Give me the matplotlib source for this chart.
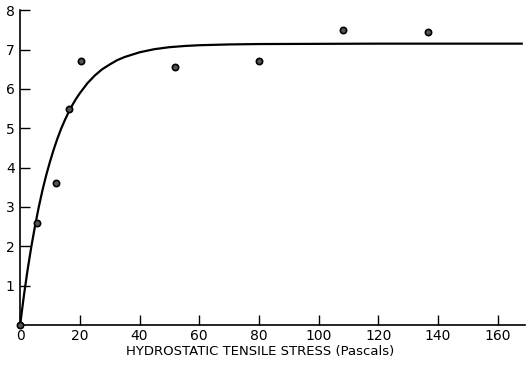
import matplotlib.pyplot as plt

# measured points
stress = [0, 5.5, 12, 16.5, 20.5, 52, 80, 108, 136.5]
value = [0, 2.6, 3.6, 5.5, 6.7, 6.55, 6.7, 7.5, 7.45]

# fitted curve
curve_x = [0, 1.25, 2.5, 3.75, 5, 6.25, 7.5, 8.75, 10, 11.25, 12.5, 13.75, 15, 16.25,
           17.5, 18.75, 20, 22.5, 25, 27.5, 30, 32.5, 35, 40, 45, 50, 55, 60, 70, 80,
           120, 168]
curve_y = [0, 0.74, 1.40, 1.99, 2.52, 3.00, 3.43, 3.81, 4.15, 4.46, 4.74, 4.99, 5.21,
           5.41, 5.59, 5.75, 5.89, 6.14, 6.34, 6.50, 6.62, 6.73, 6.81, 6.93, 7.01,
           7.06, 7.09, 7.11, 7.13, 7.14, 7.15, 7.15]

x_ticks = [0, 20, 40, 60, 80, 100, 120, 140, 160]
y_ticks = [1, 2, 3, 4, 5, 6, 7, 8]

plt.rcParams['font.family'] = ['DejaVu Sans']

fig = plt.figure(figsize=(5.3, 3.65), dpi=100)
ax = fig.add_axes([0.038, 0.11, 0.952, 0.862])

ax.plot(curve_x, curve_y, color='black', lw=1.6, solid_joinstyle='round')
ax.plot(stress, value, 'o', ms=4.5, mfc='#555555', mec='black', mew=1.2,
        clip_on=False, zorder=5)

ax.set_xlim(0, 169)
ax.set_ylim(0, 8)
ax.set_xticks(x_ticks)
ax.set_yticks(y_ticks)
ax.tick_params(direction='in', length=7, width=1, labelsize=10, pad=3)
ax.tick_params(axis='y', pad=4)
for s in ['top', 'right']:
    ax.spines[s].set_visible(False)
for s in ['left', 'bottom']:
    ax.spines[s].set_linewidth(1.2)

ax.set_xlabel('HYDROSTATIC TENSILE STRESS (Pascals)', fontsize=9.5)
ax.xaxis.set_label_coords(0.475, -0.065)

fig.savefig('out.png', dpi=100)
